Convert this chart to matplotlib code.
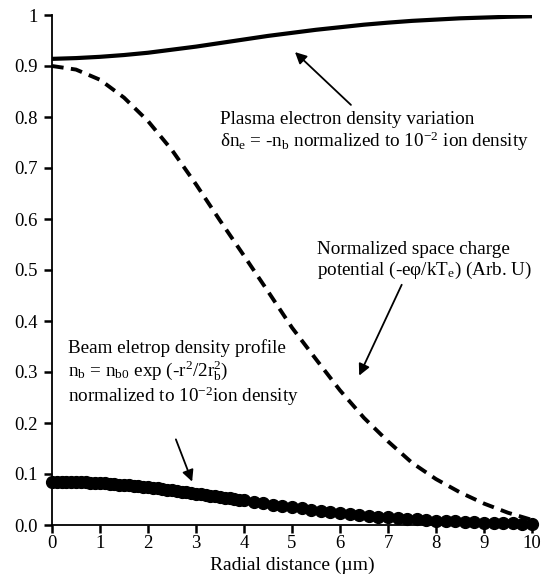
import matplotlib
matplotlib.use("Agg")
import matplotlib.pyplot as plt

plt.rcParams['font.family'] = ['Liberation Serif', 'DejaVu Serif']
plt.rcParams['mathtext.fontset'] = 'custom'
plt.rcParams['mathtext.rm'] = 'Liberation Serif'
plt.rcParams['mathtext.it'] = 'Liberation Serif:italic'

# beam electron density profile (markers)
beam_r = [0.0, 0.1, 0.2, 0.3, 0.4, 0.5, 0.6, 0.7, 0.8, 0.9, 1.0, 1.1, 1.2, 1.3, 1.4,
          1.5, 1.6, 1.7, 1.8, 1.9, 2.0, 2.1, 2.2, 2.3, 2.4, 2.5, 2.6, 2.7, 2.8, 2.9,
          3.0, 3.1, 3.2, 3.3, 3.4, 3.5, 3.6, 3.7, 3.8, 3.9, 4.0, 4.2, 4.4, 4.6, 4.8,
          5.0, 5.2, 5.4, 5.6, 5.8, 6.0, 6.2, 6.4, 6.6, 6.8, 7.0, 7.2, 7.4, 7.6, 7.8,
          8.0, 8.2, 8.4, 8.6, 8.8, 9.0, 9.2, 9.4, 9.6, 9.8, 10.0]
beam_n = [0.0850, 0.0850, 0.0849, 0.0847, 0.0845, 0.0842, 0.0839, 0.0835, 0.0831, 0.0826,
          0.0820, 0.0814, 0.0808, 0.0801, 0.0793, 0.0785, 0.0776, 0.0767, 0.0758, 0.0748,
          0.0738, 0.0727, 0.0716, 0.0705, 0.0693, 0.0681, 0.0669, 0.0656, 0.0643, 0.0631,
          0.0617, 0.0605, 0.0592, 0.0578, 0.0564, 0.0551, 0.0537, 0.0523, 0.0509, 0.0496,
          0.0482, 0.0455, 0.0428, 0.0401, 0.0375, 0.0350, 0.0326, 0.0302, 0.0280, 0.0258,
          0.0238, 0.0218, 0.0199, 0.0181, 0.0165, 0.0149, 0.0135, 0.0122, 0.0110, 0.0098,
          0.0088, 0.0078, 0.0070, 0.0062, 0.0055, 0.0048, 0.0042, 0.0037, 0.0032, 0.0028,
          0.0024]

# plasma electron density and space charge potential (step 0.5 um)
r = [0.0, 0.5, 1.0, 1.5, 2.0, 2.5, 3.0, 3.5, 4.0, 4.5, 5.0,
     5.5, 6.0, 6.5, 7.0, 7.5, 8.0, 8.5, 9.0, 9.5, 10.0]
plasma_n = [0.914, 0.9155, 0.918, 0.9215, 0.926, 0.932, 0.938, 0.945, 0.952, 0.959, 0.965,
            0.971, 0.976, 0.981, 0.985, 0.9885, 0.991, 0.9935, 0.995, 0.9965, 0.9975]
potential = [0.900, 0.893, 0.873, 0.838, 0.792, 0.735, 0.668, 0.597, 0.528, 0.458, 0.387,
             0.325, 0.264, 0.210, 0.164, 0.122, 0.090, 0.064, 0.042, 0.024, 0.010]

yticks = [0.0, 0.1, 0.2, 0.3, 0.4, 0.5, 0.6, 0.7, 0.8, 0.9, 1.0]
ylabels = ['0.0', '0.1', '0.2', '0.3', '0.4', '0.5', '0.6', '0.7', '0.8', '0.9', '1']

fig = plt.figure(figsize=(5.47, 5.86), dpi=100)
ax = fig.add_axes([52 / 547, 61 / 586, 480 / 547, 510 / 586])

ax.plot(r, plasma_n, color='black', lw=3.0, solid_capstyle='butt')
ax.plot(r, potential, color='black', lw=2.8, ls=(0, (3.0, 1.9)))
ax.plot(beam_r, beam_n, color='black', marker='o', ms=8.5, lw=0, clip_on=False, zorder=3)

ax.set_xlim(0, 10)
ax.set_ylim(0, 1)
ax.set_xticks(range(11))
ax.set_yticks(yticks)
ax.set_yticklabels(ylabels)
for s in ['top', 'right']:
    ax.spines[s].set_visible(False)
for s in ['left', 'bottom']:
    ax.spines[s].set_linewidth(1.3)
ax.tick_params(axis='both', direction='out', length=5.5, width=1.8, labelsize=13.5)
ax.tick_params(axis='x', pad=2)
ax.tick_params(axis='y', pad=5)
ax.set_xlabel('Radial distance (µm)', fontsize=14, labelpad=3)

fs = 13.75
arrow = dict(arrowstyle='-|>', color='black', lw=1.3, mutation_scale=17)

ax.annotate('', xy=(5.02, 0.931), xytext=(6.27, 0.82), arrowprops=arrow)
ax.text(3.5, 0.77, 'Plasma electron density variation\n'
        'δn$_\\mathregular{e}$ = -n$_\\mathregular{b}$ normalized to 10$^{\\mathregular{-2}}$ ion density',
        fontsize=fs, va='center', ha='left', linespacing=1.1)

ax.annotate('', xy=(6.375, 0.288), xytext=(7.31, 0.476), arrowprops=arrow)
ax.text(5.52, 0.518, 'Normalized space charge\n'
        'potential (-eφ/kT$_\\mathregular{e}$) (Arb. U)',
        fontsize=fs, va='center', ha='left', linespacing=1.1)

ax.annotate('', xy=(2.94, 0.08), xytext=(2.56, 0.173), arrowprops=arrow)
ax.text(0.33, 0.296, 'Beam eletrop density profile\n'
        'n$_\\mathregular{b}$ = n$_\\mathregular{b0}$ exp (-r$^\\mathregular{2}$/2r$^\\mathregular{2}_\\mathregular{b}$)\n'
        'normalized to 10$^{\\mathregular{-2}}$ion density',
        fontsize=fs, va='center', ha='left', linespacing=1.1)

fig.savefig('out.png', dpi=100)
